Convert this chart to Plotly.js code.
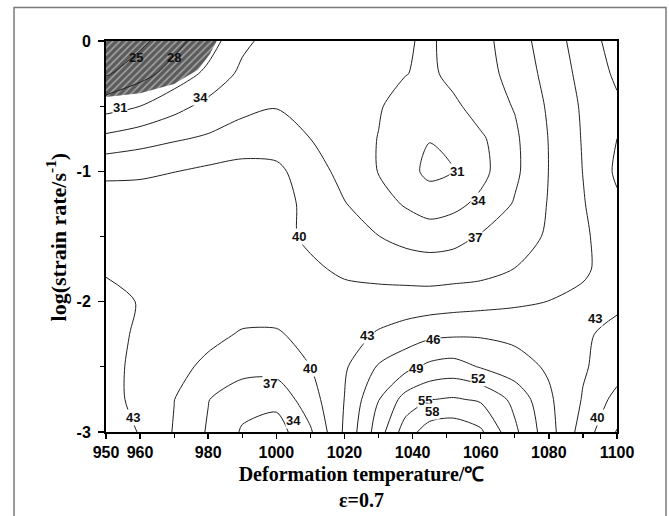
<!DOCTYPE html>
<html>
<head>
<meta charset="utf-8">
<script src="https://cdn.plot.ly/plotly-3.0.1.min.js"></script>
<style>html,body{margin:0;padding:0;background:#fff;}#chart{width:669px;height:516px;}</style>
</head>
<body>
<div id="chart"></div>
<script>
// Deformation temperature (deg C) grid columns
const temperature = [950, 960, 970, 980, 990, 1000, 1010, 1020, 1030, 1038, 1045, 1052, 1060, 1070, 1080, 1090, 1100];
// log(strain rate) grid rows
const logStrainRate = [0, -0.25, -0.5, -0.75, -1, -1.25, -1.5, -1.75, -2, -2.25, -2.5, -2.75, -3];
const eta_0    = [22, 24.2, 27.0, 29.6, 33.3, 35.3, 36, 36, 35.2, 34.31, 33.5, 35.25, 36.0, 38.6, 41.46, 44.42, 47.3];
const eta_m025 = [24.6, 26.9, 29.2, 31.7, 34.7, 35.9, 36.3, 36.2, 35.3, 34.1, 33.3, 35.05, 36.0, 37.85, 41.05, 43.84, 46.54];
const eta_m050 = [29.8, 31.0, 33.0, 34.9, 36.2, 36.85, 36.6, 35.8, 34.3, 32.6, 32.0, 33.3, 35.5, 37.17, 40.42, 43.39, 45.5];
const eta_m075 = [34.8, 35.8, 36.7, 37.4, 38.4, 38.7, 37.0, 35.8, 33.9, 32.3, 31.1, 32.3, 33.5, 36.5, 40.1, 43.2, 46];
const eta_m100 = [39.5, 39.6, 39.95, 40.6, 41.0, 40.6, 38.6, 35.9, 33.9, 32.0, 30.3, 30.9, 33.1, 36.4, 40.05, 43.05, 46.5];
const eta_m125 = [41.2, 41.2, 41.2, 41.4, 41.5, 41.0, 39.3, 37.15, 35.2, 33.7, 32.6, 33.2, 34.7, 37.25, 40.2, 42.8, 45.5];
const eta_m150 = [41.8, 41.9, 42.0, 42.0, 41.8, 40.9, 39.45, 38.3, 37.05, 36.1, 35.6, 36.0, 37.25, 38.76, 40.35, 42.5, 44.8];
const eta_m175 = [42.8, 42.6, 42.4, 42.2, 41.9, 41.3, 40.5, 39.5, 38.9, 38.6, 38.45, 38.6, 38.9, 40.05, 41.3, 42.6, 44.2];
const eta_m200 = [43.6, 42.9, 42.2, 41.6, 41.0, 40.9, 40.9, 41.1, 41.3, 41.4, 41.4, 41.7, 42.0, 42.5, 43.05, 43.6, 43.35];
const eta_m225 = [43.9, 42.6, 41.5, 40.6, 39.8, 39.8, 40.6, 41.8, 43.3, 44.3, 45.3, 45.6, 45.65, 45.3, 44.5, 43.25, 42.5];
const eta_m250 = [44.1, 42.1, 40.7, 39.5, 38.2, 38.2, 40.0, 42.6, 46.3, 48.1, 49.7, 50.2, 48.8, 47.2, 45.6, 43.3, 41.5];
const eta_m275 = [44.0, 42.2, 40.05, 37.1, 35.0, 34.9, 38.7, 43.05, 48.9, 53.2, 54.9, 55.3, 54.6, 51.2, 46.5, 42.8, 39.0];
const eta_m300 = [44.5, 42.85, 39.8, 36.7, 33.7, 32.6, 36.6, 43.45, 50.5, 56.6, 59.5, 60.0, 58.5, 52.6, 47.2, 41.67, 36.8];

// instability (hatched) region boundary
const instabilityT = [950, 950, 960, 970, 977, 980.5, 982.5, 950];
const instabilityLogRate = [0, -0.43, -0.40, -0.33, -0.22, -0.10, 0, 0];

// contour levels written on the map (placed where the original labels sit)
const labelLevels = [25, 28, 31, 34, 31, 34, 37, 40, 43, 46, 49, 52, 55, 58, 43, 40, 43, 40, 37, 34];

// axis ticks
const xTickVals = [950, 960, 980, 1000, 1020, 1040, 1060, 1080, 1100];
const yTickVals = [0, -1, -2, -3];
const yTickText = ['0', '-1', '-2', '-3'];

const z = [eta_0, eta_m025, eta_m050, eta_m075, eta_m100, eta_m125, eta_m150,
           eta_m175, eta_m200, eta_m225, eta_m250, eta_m275, eta_m300];

// label anchor points in data space (layout only)
const labelAnchors = [
  [958.8, -0.13], [970, -0.13], [954, -0.51], [977.6, -0.43], [1052.9, -1.0], [1059.3, -1.22],
  [1058.3, -1.51], [1006.7, -1.5], [1026.5, -2.26], [1046.1, -2.29], [1041, -2.51], [1059.3, -2.59],
  [1043.6, -2.76], [1045.6, -2.84], [1093.5, -2.13], [1094, -2.89], [958, -2.89], [1009.9, -2.51],
  [998.1, -2.63], [1005, -2.915]
];

const hatch = {
  type: 'scatter', x: instabilityT, y: instabilityLogRate,
  mode: 'lines', fill: 'toself', line: {width: 0, color: '#5e5e5e'},
  fillcolor: '#5e5e5e',
  fillpattern: {shape: '/', bgcolor: '#5c5c5c', fgcolor: '#a5a5a5', size: 5, solidity: 0.3},
  hoverinfo: 'skip', showlegend: false, xaxis: 'x', yaxis: 'y'
};

const contour = {
  type: 'contour', x: temperature, y: logStrainRate, z: z,
  xaxis: 'x2', yaxis: 'y2',
  autocontour: false,
  contours: {start: 25, end: 58, size: 3, coloring: 'none', showlabels: false},
  line: {color: '#222', width: 1, smoothing: 0.8},
  showscale: false, hoverinfo: 'skip'
};

const labelFont = {family: 'Liberation Sans, Arial, sans-serif', size: 13, color: '#111', weight: 'bold'};
const labelAnnotations = labelLevels.map((lv, i) => ({
  text: String(lv), x: labelAnchors[i][0], y: labelAnchors[i][1], xref: 'x', yref: 'y',
  showarrow: false, font: labelFont, borderpad: 0,
  bgcolor: (lv <= 28) ? 'rgba(0,0,0,0)' : '#ffffff'
}));

const axisFont = {family: 'Liberation Sans, Arial, sans-serif', size: 16, color: '#000', weight: 'bold'};
const titleFont = {family: 'Liberation Serif, Times New Roman, serif', size: 20, color: '#000'};

const layout = {
  width: 669, height: 516,
  margin: {l: 106, r: 52, t: 41, b: 84, pad: 0},
  paper_bgcolor: '#fff', plot_bgcolor: '#fff',
  showlegend: false,
  xaxis: {
    range: [950, 1100], tickmode: 'array', tickvals: xTickVals,
    ticks: 'outside', ticklen: 5, tickwidth: 1.5, tickcolor: '#000',
    minor: {ticks: 'outside', dtick: 10, tick0: 950, ticklen: 4, tickwidth: 1.2, tickcolor: '#000'},
    showline: true, linewidth: 2, linecolor: '#000', mirror: true,
    showgrid: false, zeroline: false, tickfont: axisFont,
    title: {text: '<b>Deformation temperature/℃<br>ε=0.7</b>', font: titleFont, standoff: 7}
  },
  yaxis: {
    range: [-3, 0], tickmode: 'array', tickvals: yTickVals, ticktext: yTickText,
    ticks: 'outside', ticklen: 6, tickwidth: 1.5, tickcolor: '#000', ticklabelstandoff: 4,
    minor: {ticks: 'outside', dtick: 0.5, tick0: 0, ticklen: 4, tickwidth: 1.2, tickcolor: '#000'},
    showline: true, linewidth: 2, linecolor: '#000', mirror: true,
    showgrid: false, zeroline: false, tickfont: axisFont
  },
  xaxis2: {range: [950, 1100], overlaying: 'x', visible: false},
  yaxis2: {range: [-3, 0], overlaying: 'y', visible: false},
  annotations: [{
    text: '<b>log(strain rate/s<sup>-1</sup>)</b>', textangle: -90,
    xref: 'paper', yref: 'paper', x: -0.098, y: 0.5, xanchor: 'center', yanchor: 'middle',
    showarrow: false, font: {family: titleFont.family, size: 22, color: '#000'}
  }].concat(labelAnnotations),
  shapes: [{type: 'rect', xref: 'paper', yref: 'paper', x0: -0.18, x1: 1.0959, y0: -0.4, y1: 1.0857,
            line: {color: '#7a7a7a', width: 1.5}, fillcolor: 'rgba(0,0,0,0)', layer: 'below'}]
};

Plotly.newPlot('chart', [hatch, contour], layout, {staticPlot: true, displayModeBar: false});
</script>
</body>
</html>
